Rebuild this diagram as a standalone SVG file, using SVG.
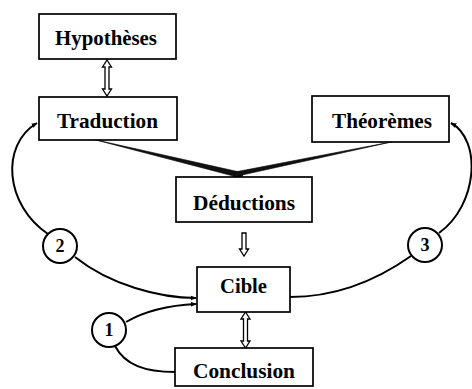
<svg xmlns="http://www.w3.org/2000/svg" width="472" height="389" viewBox="0 0 472 389">
<defs>
<style>
.box{fill:#fff;stroke:#000;stroke-width:1.7}
.lbl{font-family:'Liberation Serif','DejaVu Serif',serif;font-weight:bold;font-size:20px;fill:#000;text-anchor:middle}
.num{font-family:'Liberation Serif','DejaVu Serif',serif;font-weight:bold;font-size:18px;fill:#000;text-anchor:middle}
.circ{fill:#fff;stroke:#000;stroke-width:2}
.curve{fill:none;stroke:#000;stroke-width:2}
.hollow{fill:#fff;stroke:#000;stroke-width:1.3}
.wedge{fill:#111;stroke:#000;stroke-width:0.6}
</style>
<marker id="ah" viewBox="0 0 10 10" refX="9" refY="5" markerWidth="6" markerHeight="6" orient="auto" markerUnits="userSpaceOnUse">
<path d="M0,1 L10,5 L0,9 Z" fill="#000"/>
</marker>
</defs>
<rect width="472" height="389" fill="#fff"/>
<g id="connectors">
<path class="curve" d="M48,234 C5,205 0,145 37,123" marker-end="url(#ah)"/>
<path class="curve" d="M75,257 C110,285 160,298 196,298" marker-end="url(#ah)"/>
<path class="curve" d="M126,322 C150,308 175,305 196,304" marker-end="url(#ah)"/>
<path class="curve" d="M115,346 C125,365 145,372 175,372"/>
<path class="curve" d="M439,233 C478,205 482,140 451,123" marker-end="url(#ah)"/>
<path class="curve" d="M411,256 C370,285 330,297 290,297"/>
<polygon class="wedge" points="92,139 244,173 241,178"/>
<polygon class="wedge" points="396,141 235,172 233,177"/>
<path class="hollow" d="M107,60 L111.5,67 L109,67 L109,89 L111.5,89 L107,96 L102.5,89 L105,89 L105,67 L102.5,67 Z"/>
<path class="hollow" d="M242,233 L246,233 L246,249 L248.5,249 L244,256 L239.5,249 L242,249 Z"/>
<path class="hollow" d="M245.5,312 L250,319 L247.5,319 L247.5,341 L250,341 L245.5,348 L241,341 L243.5,341 L243.5,319 L241,319 Z"/>
</g>
<g id="hypotheses">
<rect class="box" x="39" y="14" width="137" height="45"/>
<text class="lbl" font-family="Liberation Serif, serif" x="106" y="45" textLength="102" lengthAdjust="spacingAndGlyphs">Hypothèses</text>
</g>
<g id="traduction">
<rect class="box" x="39" y="97" width="138" height="43"/>
<text class="lbl" font-family="Liberation Serif, serif" x="107.5" y="128" textLength="101" lengthAdjust="spacingAndGlyphs">Traduction</text>
</g>
<g id="theoremes">
<rect class="box" x="312" y="96" width="137" height="46"/>
<text class="lbl" font-family="Liberation Serif, serif" x="382" y="128" textLength="100" lengthAdjust="spacingAndGlyphs">Théorèmes</text>
</g>
<g id="deductions">
<rect class="box" x="176" y="177" width="136" height="45"/>
<text class="lbl" font-family="Liberation Serif, serif" x="244" y="210" textLength="102" lengthAdjust="spacingAndGlyphs">Déductions</text>
</g>
<g id="cible">
<rect class="box" x="197" y="267" width="93" height="45"/>
<text class="lbl" font-family="Liberation Serif, serif" x="243.5" y="293" textLength="47" lengthAdjust="spacingAndGlyphs">Cible</text>
</g>
<g id="conclusion">
<rect class="box" x="175" y="348" width="138" height="38"/>
<text class="lbl" font-family="Liberation Serif, serif" x="244" y="378" textLength="102" lengthAdjust="spacingAndGlyphs">Conclusion</text>
</g>
<g id="circle1">
<circle class="circ" cx="109" cy="330" r="17"/>
<text class="num" x="109" y="336">1</text>
</g>
<g id="circle2">
<circle class="circ" cx="60" cy="246" r="17"/>
<text class="num" x="60" y="252">2</text>
</g>
<g id="circle3">
<circle class="circ" cx="425" cy="245" r="17"/>
<text class="num" x="425" y="251">3</text>
</g>
</svg>
